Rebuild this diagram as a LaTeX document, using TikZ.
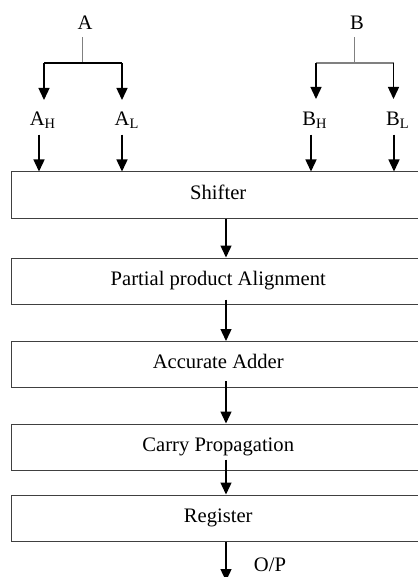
\documentclass[tikz,border=0pt]{standalone}
\usepackage{fontspec}
\setmainfont{Liberation Serif}
\usetikzlibrary{arrows.meta,calc}
\begin{document}
\begin{tikzpicture}[x=0.5pt,y=-0.5pt,
  font=\fontsize{10.3}{12}\selectfont,
  arr/.style={draw=black,line width=0.7pt,-{Triangle[length=6pt,width=5.5pt]}},
  grayline/.style={draw=black!50,line width=0.6pt},
  blackline/.style={draw=black,line width=0.6pt},
  box/.style={draw=black!75,line width=0.5pt,rectangle,minimum width=206.75pt,minimum height=23pt,inner sep=0pt,text height=8pt,text depth=4pt},
  lbl/.style={inner sep=1pt}]
\useasboundingbox (0,0) rectangle (417,577);
% inputs
\node[lbl] (A) at (85,23) {A};
\node[lbl] (B) at (357,23) {B};
\node[lbl] (AH) at (43,120) {A\textsubscript{H}};
\node[lbl] (AL) at (127,120) {A\textsubscript{L}};
\node[lbl] (BH) at (315,120) {B\textsubscript{H}};
\node[lbl] (BL) at (398,120) {B\textsubscript{L}};
% boxes
\node[box] (shifter) at (218.25,195) {Shifter};
\node[box] (ppa) at (218.25,281) {Partial product Alignment};
\node[box] (adder) at (218.25,364.5) {Accurate Adder};
\node[box] (carry) at (218.25,447) {Carry Propagation};
\node[box] (reg) at (218.25,518) {Register};
\node[lbl] (op) at (270,565) {O/P};
% coordinates
\coordinate (ax) at (226,0);
\coordinate (aj) at (82.7,63);
\coordinate (a1) at (44,63);
\coordinate (a2) at (122,63);
\coordinate (a1e) at (44,100);
\coordinate (a2e) at (122,100);
\coordinate (bj) at (354.5,63);
\coordinate (b1) at (316,63);
\coordinate (b2) at (393.5,63);
\coordinate (b1e) at (316,99);
\coordinate (b2e) at (393.5,99);
\coordinate (x1) at (39,0);
\coordinate (x2) at (122,0);
\coordinate (x3) at (311,0);
\coordinate (x4) at (394,0);
\coordinate (oute) at (226,581);
% splitting
\draw[grayline] ($(A.south -| aj)+(0,5)$) -- (aj);
\draw[blackline] (a1) -- (a2);
\draw[arr] (a1) -- (a1e);
\draw[arr] (a2) -- (a2e);
\draw[grayline] ($(B.south -| bj)+(0,5)$) -- (bj);
\draw[grayline] (b1) -- (b2);
\draw[arr] (b1) -- (b1e);
\draw[arr] (b2) -- (b2e);
% to shifter
\draw[arr] ($(AH.south -| x1)+(0,4)$) -- (shifter.north -| x1);
\draw[arr] ($(AL.south -| x2)+(0,4)$) -- (shifter.north -| x2);
\draw[arr] ($(BH.south -| x3)+(0,4)$) -- (shifter.north -| x3);
\draw[arr] ($(BL.south -| x4)+(0,4)$) -- (shifter.north -| x4);
% chain
\draw[arr] (shifter.south -| ax) -- (ppa.north -| ax);
\draw[arr] ($(ppa.south -| ax)+(0,-5)$) -- (adder.north -| ax);
\draw[arr] ($(adder.south -| ax)+(0,-7)$) -- (carry.north -| ax);
\draw[arr] ($(carry.south -| ax)+(0,-11)$) -- (reg.north -| ax);
\draw[arr] (reg.south -| ax) -- (oute);
\end{tikzpicture}
\end{document}
